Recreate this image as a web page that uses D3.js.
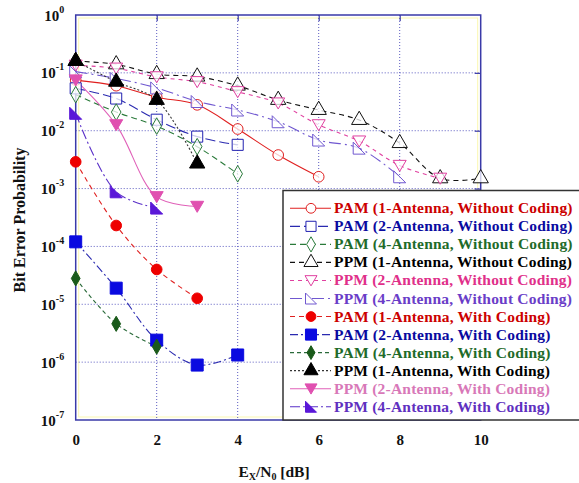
<!DOCTYPE html>
<html><head><meta charset="utf-8">
<script src="https://cdn.jsdelivr.net/npm/d3@7"></script>
<style>
html,body{margin:0;padding:0;background:#fff;}
svg text{font-family:"Liberation Serif","Times New Roman",serif;font-weight:bold;}
</style></head>
<body>
<svg id="chart" width="579" height="483"></svg>
<script>
// ---- data ----
const snr = [0, 1, 2, 3, 4, 5, 6, 7, 8, 9, 10];
const xTicks = [0, 2, 4, 6, 8, 10];
const yTickExponents = [0, -1, -2, -3, -4, -5, -6, -7];
const seriesNames = [
  "PAM (1-Antenna, Without Coding)",
  "PAM (2-Antenna, Without Coding)",
  "PAM (4-Antenna, Without Coding)",
  "PPM (1-Antenna, Without Coding)",
  "PPM (2-Antenna, Without Coding)",
  "PPM (4-Antenna, Without Coding)",
  "PAM (1-Antenna, With Coding)",
  "PAM (2-Antenna, With Coding)",
  "PAM (4-Antenna, With Coding)",
  "PPM (1-Antenna, With Coding)",
  "PPM (2-Antenna, With Coding)",
  "PPM (4-Antenna, With Coding)"
];
const pam1Uncoded = [0.075, 0.060, 0.038, 0.028, 0.0107, 0.0038, 0.0016];
const pam2Uncoded = [0.054, 0.036, 0.0155, 0.0079, 0.0057];
const pam4Uncoded = [0.042, 0.021, 0.012, 0.0053, 0.0018];
const ppm1Uncoded = [0.16, 0.14, 0.095, 0.086, 0.06, 0.034, 0.0228, 0.0153, 0.0061, 0.0015, 0.0015];
const ppm2Uncoded = [0.135, 0.12, 0.085, 0.070, 0.047, 0.030, 0.0126, 0.0066, 0.0025, 0.0015];
const ppm4Uncoded = [0.105, 0.08, 0.055, 0.032, 0.0228, 0.0143, 0.0069, 0.0050, 0.0016];
const pam1Coded = [0.0029, 0.00023, 4.0e-5, 1.27e-5];
const pam2Coded = [1.2e-4, 1.9e-5, 2.4e-6, 8.9e-7, 1.33e-6];
const pam4Coded = [2.8e-5, 4.6e-6, 1.85e-6];
const ppm1Coded = [0.16, 0.07, 0.034, 0.0027];
const ppm2Coded = [0.075, 0.0126, 0.00072, 0.00049];
const ppm4Coded = [0.020, 0.00088, 0.00046];

// ---- styles ----
const seriesValues = [pam1Uncoded, pam2Uncoded, pam4Uncoded, ppm1Uncoded, ppm2Uncoded, ppm4Uncoded,
                      pam1Coded, pam2Coded, pam4Coded, ppm1Coded, ppm2Coded, ppm4Coded];
const lineColors = ["#e02020", "#2a2ab0", "#2a7a3a", "#111111", "#e040a0", "#7058d0",
                    "#e02020", "#2a2ab0", "#2a6a3a", "#333333", "#e060b8", "#5a30c8"];
const markerColors = ["#e02020", "#2020b0", "#2a7a3a", "#111111", "#e040a0", "#7058d0",
                      "#ee0000", "#0a0ae0", "#1a5a1a", "#000000", "#e050b0", "#5a18d8"];
const textColors = ["#cc0000", "#0a0aa0", "#1f6b2a", "#000000", "#e0308a", "#6a3dc8",
                    "#cc0000", "#0a0aa0", "#1f6b2a", "#000000", "#d878b8", "#6030c0"];
const dashes = [null, "10,4", "6,4", "5,4", "4,4", "12,4,2,4",
                "5,4", "8,3,2,3", "4,3", "2,2", null, "10,3,2,3"];
const shapes = ["circle", "square", "diamond", "triangle", "down", "right",
                "circle", "square", "diamond", "triangle", "down", "right"];
const filled = [false, false, false, false, false, false, true, true, true, true, true, true];

// ---- layout ----
const svg = d3.select("#chart");
const L = 75.7, T = 15, W = 405, H = 405;
const x = d3.scaleLinear().domain([0, 10]).range([L, L + W]);
const y = d3.scaleLog().domain([1e-7, 1]).range([T + H, T]);

const plotColor = "#3a3aa8";
const gridColor = "#5a5ac0";

// faint inner frame
svg.append("rect").attr("x", L + 3).attr("y", T + 3).attr("width", W - 6).attr("height", H - 6)
  .attr("fill", "none").attr("stroke", "#fbf7b0").attr("stroke-width", 1);

// grid
const grid = svg.append("g");
grid.selectAll("line.h").data(yTickExponents.slice(1, -1)).join("line")
  .attr("x1", L).attr("x2", L + W).attr("y1", d => y(Math.pow(10, d))).attr("y2", d => y(Math.pow(10, d)))
  .attr("stroke", gridColor).attr("stroke-width", 1).attr("stroke-dasharray", "1,2");
grid.selectAll("line.v").data(xTicks.slice(1, -1)).join("line")
  .attr("y1", T).attr("y2", T + H).attr("x1", d => x(d)).attr("x2", d => x(d))
  .attr("stroke", gridColor).attr("stroke-width", 1).attr("stroke-dasharray", "1,2");

// axes
const yTickVals = yTickExponents.map(e => Math.pow(10, e));
const axL = svg.append("g").attr("transform", `translate(${L},0)`)
  .call(d3.axisLeft(y).tickValues(yTickVals).tickSize(0).tickPadding(12).tickFormat(() => ""));
const axR = svg.append("g").attr("transform", `translate(${L + W},0)`)
  .call(d3.axisLeft(y).tickValues(yTickVals.slice(1, -1)).tickSize(6).tickFormat(() => ""));
const axT = svg.append("g").attr("transform", `translate(0,${T})`)
  .call(d3.axisBottom(x).tickValues(xTicks.slice(1, -1)).tickSize(6).tickFormat(() => ""));
const axB = svg.append("g").attr("transform", `translate(0,${T + H})`)
  .call(d3.axisBottom(x).tickValues(xTicks).tickSize(0).tickPadding(14).tickFormat(d3.format("d")));
[axL, axR, axT, axB].forEach(a => {
  a.select(".domain").remove();
  a.selectAll(".tick line").attr("stroke", plotColor).attr("stroke-width", 1.2);
});
axB.selectAll("text").attr("font-size", 15).attr("fill", "#111")
  .style("font-family", '"Liberation Serif",serif').style("font-weight", "bold");
axL.selectAll(".tick text").each(function(d) {
  const t = d3.select(this);
  const e = Math.round(Math.log10(d));
  t.attr("x", -11.5).attr("dy", null).attr("y", 5).attr("font-size", 15).attr("fill", "#111")
   .attr("text-anchor", "end")
   .style("font-family", '"Liberation Serif",serif').style("font-weight", "bold");
  t.text(null);
  t.append("tspan").text("10");
  t.append("tspan").attr("font-size", 10).attr("dy", -8).text(String(e));
});

// plot border
svg.append("rect").attr("x", L).attr("y", T).attr("width", W).attr("height", H)
  .attr("fill", "none").attr("stroke", plotColor).attr("stroke-width", 1.5);

// marker path generator
function markerPath(shape, s) {
  if (shape === "circle") return d3.symbol(d3.symbolCircle, s * s * 0.62)();
  if (shape === "square") return d3.symbol(d3.symbolSquare, s * s * 0.85)();
  if (shape === "diamond") return d3.symbol(d3.symbolDiamond, s * s * 0.55)();
  if (shape === "triangle") return d3.symbol(d3.symbolTriangle, s * s * 0.6)();
  if (shape === "down") {
    const h = s * 0.5;
    return `M${-h},${-h * 0.8}L${h},${-h * 0.8}L0,${h * 0.9}Z`;
  }
  if (shape === "right") {
    const h = s * 0.5;
    return `M${-h},${-h}L${-h},${h}L${h},${h}Z`;
  }
}

const line = d3.line().curve(d3.curveCatmullRom.alpha(0.5)).x(d => x(d[0])).y(d => y(d[1]));
const sizes = [12, 12, 12, 13, 13, 12, 12, 13, 11, 13, 13, 12];

const order = [0, 1, 2, 3, 4, 5, 6, 7, 8, 9, 10, 11];
order.forEach(i => {
  const pts = seriesValues[i].map((v, k) => [snr[k], v]);
  svg.append("path").datum(pts).attr("d", line)
    .attr("fill", "none").attr("stroke", lineColors[i]).attr("stroke-width", 1.1)
    .attr("stroke-dasharray", dashes[i]);
});
order.forEach(i => {
  const pts = seriesValues[i].map((v, k) => [snr[k], v]);
  svg.append("g").selectAll("path").data(pts).join("path")
    .attr("transform", d => `translate(${x(d[0])},${y(d[1])})`)
    .attr("d", markerPath(shapes[i], sizes[i]))
    .attr("fill", filled[i] ? markerColors[i] : "#fff")
    .attr("fill-opacity", filled[i] ? 1 : 0.75)
    .attr("stroke", markerColors[i]).attr("stroke-width", 1);
});

// legend
const lg = svg.append("g");
lg.append("rect").attr("x", 283).attr("y", 190.5).attr("width", 310).attr("height", 229.5)
  .attr("fill", "#fff").attr("stroke", "#333").attr("stroke-width", 1.5);
const rowY = i => 208.3 + i * 18.04;
seriesNames.forEach((name, i) => {
  const cy = rowY(i);
  lg.append("line").attr("x1", 290).attr("x2", 331).attr("y1", cy).attr("y2", cy)
    .attr("stroke", lineColors[i]).attr("stroke-width", 1.1).attr("stroke-dasharray", dashes[i]);
  lg.append("path").attr("transform", `translate(311,${cy})`)
    .attr("d", markerPath(shapes[i], sizes[i] - 1))
    .attr("fill", filled[i] ? markerColors[i] : "#fff")
    .attr("stroke", markerColors[i]).attr("stroke-width", 1);
  lg.append("text").attr("x", 334).attr("y", cy + 5).attr("font-size", 15.5)
    .attr("letter-spacing", 0.2)
    .attr("fill", textColors[i]).text(name);
});

// axis titles
svg.append("text").attr("transform", "translate(25,220) rotate(-90)")
  .attr("text-anchor", "middle").attr("font-size", 16).attr("fill", "#111")
  .text("Bit Error Probability");
const xt = svg.append("text").attr("x", 274).attr("y", 477).attr("text-anchor", "middle")
  .attr("font-size", 15.5).attr("fill", "#111");
xt.append("tspan").text("E");
xt.append("tspan").attr("font-size", 10).attr("dy", 3).text("X");
xt.append("tspan").attr("dy", -3).text("/N");
xt.append("tspan").attr("font-size", 10).attr("dy", 3).text("0");
xt.append("tspan").attr("dy", -3).text(" [dB]");
</script>
</body></html>
